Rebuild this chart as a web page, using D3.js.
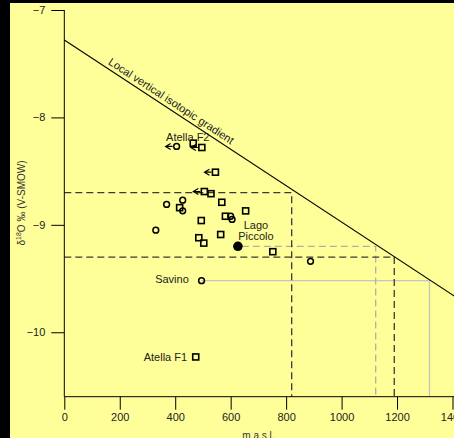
<!DOCTYPE html>
<html>
<head>
<meta charset="utf-8">
<script src="https://cdn.jsdelivr.net/npm/d3@7"></script>
<style>
  body { margin: 0; background: #000; }
  text { font-family: Arial, "Liberation Sans", sans-serif; }
</style>
</head>
<body>
<svg width="454" height="438"></svg>
<script>
// samples: altitude (m a.s.l.), d18O, marker ("c" open circle, "s" square, "f" filled circle)
var sampleAlt  = [405, 465, 496, 545, 505, 529, 427, 369, 416, 427, 568, 654, 581, 600, 605, 494, 330, 564, 485, 503, 626, 752, 888, 495, 474];
var sampleD18O = [-8.27, -8.24, -8.28, -8.51, -8.69, -8.71, -8.77, -8.81, -8.84, -8.87, -8.79, -8.87, -8.92, -8.92, -8.95, -8.96, -9.05, -9.09, -9.12, -9.17, -9.20, -9.25, -9.34, -9.52, -10.23];
var sampleType = ["c", "s", "s", "s", "s", "s", "c", "c", "s", "c", "s", "s", "s", "c", "c", "s", "c", "s", "s", "s", "f", "s", "c", "c", "s"];
var sampleArrow = [true, false, true, true, true, false, false, false, false, false, false, false, false, false, false, false, false, false, false, false, false, false, false, false, false];

var labelText   = ["Atella F2", "Lago", "Piccolo", "Savino", "Atella F1"];
var labelAlt    = [367, 691, 691, 449, 443];
var labelD18O   = [-8.18, -9.0, -9.11, -9.51, -10.23];
var labelAnchor = ["start", "middle", "middle", "end", "end"];

var xTicks = [0, 200, 400, 600, 800, 1000, 1200, 1400];
var yTicks = [-7, -8, -9, -10];

// local vertical isotopic gradient
var gradAlt = [0, 1410];
var gradD18O = [-7.28, -9.67];

// guide lines: [altStart, altEnd, d18O]
var darkDash = [[0, 820, -8.7], [0, 1190, -9.3]];
var lightDash = [[640, 1123, -9.2]];
var graySolid = [[495, 1317, -9.52]];

var svg = d3.select("svg");
var width = +svg.attr("width"),
    height = +svg.attr("height");

svg.append("rect").attr("x", 10).attr("y", 3)
    .attr("width", width - 10).attr("height", height - 3)
    .attr("fill", "#ffff99");

var x = d3.scaleLinear().domain([0, 1400]).range([64.3, 452.5]);
var y = d3.scaleLinear().domain([-7, -10.6]).range([10, 396.7]);

var g = svg.append("g");

// guides
function guide(list, color, dash, width) {
    list.forEach(function (d) {
        g.append("path")
            .attr("d", d3.line()([[x(d[0]), y(d[2])], [x(d[1]), y(d[2])], [x(d[1]), y(-10.6)]]))
            .attr("fill", "none")
            .attr("stroke", color)
            .attr("stroke-width", width)
            .attr("stroke-dasharray", dash);
    });
}
guide(graySolid, "#c4c4c4", null, 1.3);
guide(lightDash, "#b0b0a8", "7,4", 1.3);
guide(darkDash, "#3a3a3a", "7,4", 1.3);

// gradient line
g.append("line")
    .attr("x1", x(gradAlt[0])).attr("y1", y(gradD18O[0]))
    .attr("x2", x(gradAlt[1])).attr("y2", y(gradD18O[1]))
    .attr("stroke", "#000").attr("stroke-width", 1.1);

var angle = Math.atan2(y(gradD18O[1]) - y(gradD18O[0]), x(gradAlt[1]) - x(gradAlt[0])) * 180 / Math.PI;
var ga = 148, gd = gradD18O[0] + (gradD18O[1] - gradD18O[0]) * ga / gradAlt[1];
g.append("text")
    .attr("transform", "translate(" + x(ga) + "," + y(gd) + ") rotate(" + angle + ")")
    .attr("dy", -4)
    .attr("font-size", 11)
    .attr("fill", "#222")
    .text("Local vertical isotopic gradient");

// axes
var yAxis = g.append("g").attr("transform", "translate(" + x(0) + ",0)");
yAxis.call(d3.axisLeft(y).tickValues(d3.range(-7, -10.61, -0.1)).tickSize(7).tickFormat(""));
yAxis.call(d3.axisLeft(y).tickValues(yTicks).tickSize(13).tickPadding(6).tickFormat(d3.format("d")));
yAxis.selectAll(".domain").attr("d", "M0," + y(-7) + "V" + y(-10.6));

var xAxis = g.append("g").attr("transform", "translate(0," + y(-10.6) + ")");
xAxis.call(d3.axisBottom(x).tickValues(d3.range(0, 1401, 50)).tickSize(7).tickFormat(""));
xAxis.call(d3.axisBottom(x).tickValues(xTicks).tickSize(13).tickPadding(4).tickFormat(d3.format("d")));
xAxis.selectAll(".domain").attr("d", "M" + x(0) + ",0H" + width);

svg.selectAll(".tick text").attr("font-size", 11).attr("fill", "#222")
    .style("font-family", "Arial, 'Liberation Sans', sans-serif");
svg.selectAll(".tick line").attr("stroke", "#000");
svg.selectAll(".domain").attr("stroke", "#000");

svg.append("text")
    .attr("x", x(700)).attr("y", 439)
    .attr("text-anchor", "middle").attr("font-size", 10).attr("fill", "#333")
    .text("m a.s.l.");

var yl = svg.append("text")
    .attr("transform", "translate(25,203) rotate(-90)")
    .attr("text-anchor", "middle").attr("font-size", 10).attr("fill", "#333");
yl.append("tspan").text("\u03b4");
yl.append("tspan").attr("font-size", 7).attr("dy", -4).text("18");
yl.append("tspan").attr("dy", 4).text("O \u2030 (V-SMOW)");

// samples
var pts = sampleAlt.map(function (a, i) {
    return { alt: a, d: sampleD18O[i], type: sampleType[i], arrow: sampleArrow[i] };
});

var marks = g.append("g").selectAll("g").data(pts).enter().append("g")
    .attr("transform", function (d) { return "translate(" + x(d.alt) + "," + y(d.d) + ")"; });

marks.filter(function (d) { return d.arrow; })
    .append("path")
    .attr("d", "M-4,0H-11M-6,-3L-11,0L-6,3")
    .attr("fill", "none").attr("stroke", "#000").attr("stroke-width", 1.2);

marks.filter(function (d) { return d.type === "s"; })
    .append("rect")
    .attr("x", -3).attr("y", -3).attr("width", 6).attr("height", 6)
    .attr("fill", "none").attr("stroke", "#000").attr("stroke-width", 1.6);

marks.filter(function (d) { return d.type === "c"; })
    .append("circle").attr("r", 2.9)
    .attr("fill", "none").attr("stroke", "#000").attr("stroke-width", 1.5);

marks.filter(function (d) { return d.type === "f"; })
    .append("circle").attr("r", 4.8).attr("fill", "#000");

// labels
g.append("g").selectAll("text").data(labelText).enter().append("text")
    .attr("x", function (d, i) { return x(labelAlt[i]); })
    .attr("y", function (d, i) { return y(labelD18O[i]); })
    .attr("dy", "0.35em")
    .attr("text-anchor", function (d, i) { return labelAnchor[i]; })
    .attr("font-size", 11)
    .attr("fill", "#222")
    .text(function (d) { return d; });
</script>
</body>
</html>
